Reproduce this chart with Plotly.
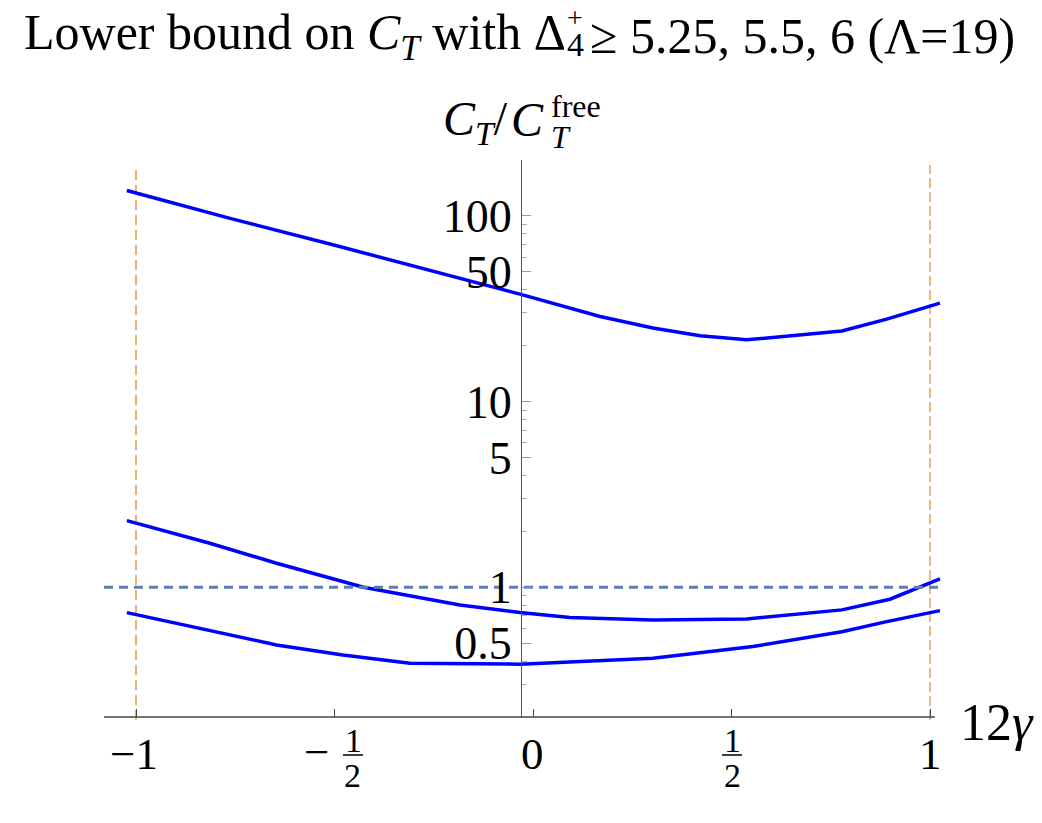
import plotly.graph_objects as go

# ---- data ----
x_top = [-1.023, -0.763, -0.504, -0.259, -0.033, 0.169, 0.302, 0.421, 0.538, 0.778, 0.891, 1.025]
y_top = [137.0, 97.0, 69.9, 50.6, 37.9, 28.7, 24.9, 22.6, 21.5, 24.0, 27.8, 33.9]

x_mid = [-1.023, -0.814, -0.646, -0.427, -0.184, -0.033, 0.093, 0.302, 0.538, 0.778, 0.899, 1.025]
y_mid = [2.285, 1.726, 1.347, 1.0, 0.803, 0.730, 0.686, 0.667, 0.675, 0.755, 0.862, 1.108]

x_low = [-1.023, -0.856, -0.646, -0.479, -0.310, -0.033, 0.302, 0.554, 0.778, 0.891, 1.025]
y_low = [0.730, 0.613, 0.489, 0.432, 0.390, 0.385, 0.414, 0.479, 0.576, 0.653, 0.748]

free_x = [-1.0806, 1.0202]
free_y = [1.0, 1.0]

y_major = [0.5, 1, 5, 10, 50, 100]
y_major_text = ["0.5", "1", "5", "10", "50", "100"]
y_minor = [0.2, 0.3, 0.4, 0.6, 0.7, 0.8, 0.9, 2, 3, 4, 6, 7, 8, 9, 20, 30, 40, 60, 70, 80, 90, 200]
x_ticks = [-1, -0.5, 0, 0.5, 1]

# ---- geometry helpers ----
L, R, T, B = 104, 98, 160, 106
W = 1042 - L - R
H = 823 - T - B
XMIN = -1.0806
XMAX = XMIN + W / 397.0
BOT_PX = 823 - B

def px(xp):
    return (xp - L) / W

def py(yp):
    return (BOT_PX - yp) / H

SERIF = "Liberation Serif, Times New Roman, serif"

fig = go.Figure()
for xs, ys in [(x_top, y_top), (x_mid, y_mid), (x_low, y_low)]:
    fig.add_trace(go.Scatter(x=xs, y=ys, mode="lines",
                             line=dict(color="#0000FF", width=3.5),
                             showlegend=False, hoverinfo="skip"))
fig.add_trace(go.Scatter(x=free_x, y=free_y, mode="lines",
                         line=dict(color="#5B7DB6", width=3, dash="9px,6px"),
                         showlegend=False, hoverinfo="skip"))

shapes = [
    # x axis line
    dict(type="line", xref="x", yref="paper", x0=XMIN, x1=1.012, y0=0, y1=0,
         line=dict(color="#444444", width=1.5), layer="above"),
    # vertical dashed at -1 and 1
    dict(type="line", xref="x", yref="paper", x0=-1, x1=-1, y0=py(720), y1=py(165),
         line=dict(color="rgba(243,160,80,0.85)", width=2, dash="10px,5px"), layer="below"),
    dict(type="line", xref="x", yref="paper", x0=1, x1=1, y0=py(720), y1=py(165),
         line=dict(color="#E8862A", width=1.2, dash="10px,4px"), layer="below"),
    # fraction bars
    dict(type="line", xref="paper", yref="paper", x0=px(343), x1=px(363), y0=py(755), y1=py(755),
         line=dict(color="black", width=1.5)),
    dict(type="line", xref="paper", yref="paper", x0=px(722), x1=px(742), y0=py(755), y1=py(755),
         line=dict(color="black", width=1.5)),
]

ann = []
def A(text, xp, yp, size, xanchor="center", yanchor="middle"):
    ann.append(dict(text=text, xref="paper", yref="paper", x=px(xp), y=py(yp),
                    xanchor=xanchor, yanchor=yanchor, showarrow=False,
                    font=dict(family=SERIF, size=size, color="black")))

# title
A("Lower bound on <i>C</i><sub><i>T</i></sub> with Δ", 22, 36, 50, xanchor="left")
A("+", 575, 17, 28)
A("4", 575, 44, 34)
A("≥ 5.25, 5.5, 6 (Λ=19)", 588, 36, 50, xanchor="left")

# y-axis title
A("<i>C</i><sub><i>T</i></sub>/", 441, 122, 48, xanchor="left")
A("<i>C</i>", 527, 120, 48)
A("<i>T</i>", 561, 137, 32)
A("free", 576, 106, 32)

# x-axis label
A("12<i>γ</i>", 958, 722, 52, xanchor="left")

# x tick labels
A("−1", 134, 754, 45)
A("0", 532, 754, 45)
A("1", 930, 754, 45)
A("−", 316, 752, 45)
A("1", 353, 740, 34)
A("2", 352, 775, 34)
A("1", 732, 740, 34)
A("2", 732, 775, 34)

fig.update_layout(
    width=1042, height=823,
    margin=dict(l=L, r=R, t=T, b=B, pad=0),
    paper_bgcolor="white", plot_bgcolor="white",
    shapes=shapes, annotations=ann,
    xaxis=dict(range=[XMIN, XMAX], showgrid=False, zeroline=False, showline=False,
               tickvals=x_ticks, ticks="inside", ticklen=8, tickwidth=1.2,
               tickcolor="#444444", showticklabels=False),
    yaxis=dict(type="log", range=[-0.69897, 2.30103], showgrid=False, zeroline=False,
               anchor="free", position=(521 - L) / W, side="left",
               showline=True, linecolor="#555555", linewidth=1.2,
               tickvals=y_major, ticktext=y_major_text, ticks="inside",
               ticklen=9, tickwidth=1, tickcolor="#999999",
               tickfont=dict(family=SERIF, size=46, color="black"),
               minor=dict(tickvals=y_minor, ticks="inside", ticklen=5,
                          tickwidth=1, tickcolor="#aaaaaa")),
)

fig.write_html("out.html")
